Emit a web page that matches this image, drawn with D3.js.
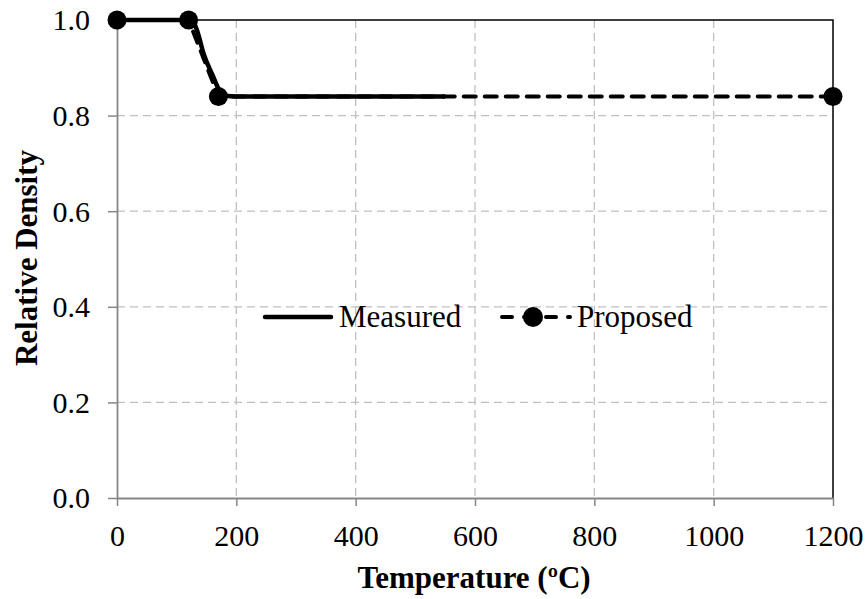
<!DOCTYPE html>
<html>
<head>
<meta charset="utf-8">
<script src="https://cdn.jsdelivr.net/npm/d3@7/dist/d3.min.js"></script>
<style>
  html, body { margin: 0; padding: 0; background: #fff; }
  svg { display: block; font-family: "Liberation Serif", "Times New Roman", serif; }
</style>
</head>
<body>
<svg id="chart" width="868" height="599"></svg>
<script>
// Relative density versus temperature
const measuredTemp    = [0, 125, 135, 145, 160, 172, 180, 200, 300, 400, 550];
const measuredDensity = [1.0, 1.0, 0.975, 0.93, 0.885, 0.852, 0.842, 0.84, 0.84, 0.84, 0.84];
const proposedTemp    = [0, 120, 170, 1200];
const proposedDensity = [1.0, 1.0, 0.84, 0.84];
const xTicks = [0, 200, 400, 600, 800, 1000, 1200];
const yTicks = [0.0, 0.2, 0.4, 0.6, 0.8, 1.0];
const seriesNames = ["Measured", "Proposed"];

(function () {
const svg = d3.select("#chart");
const pLeft = 117, pRight = 833, pTop = 20, pBottom = 498;
const serif = "Liberation Serif, Times New Roman, serif";

const x = d3.scaleLinear().domain([0, 1200]).range([pLeft, pRight]);
const y = d3.scaleLinear().domain([0, 1]).range([pBottom, pTop]);

// gridlines
const grid = svg.append("g");
grid.selectAll("line.vg").data(xTicks.filter(t => t > 0 && t < 1200)).join("line")
  .attr("x1", d => x(d)).attr("x2", d => x(d)).attr("y1", pTop).attr("y2", pBottom)
  .attr("stroke", "#c0c0c0").attr("stroke-width", 1.3).attr("stroke-dasharray", "8,5");
grid.selectAll("line.hg").data(yTicks.filter(t => t > 0 && t < 1)).join("line")
  .attr("x1", pLeft).attr("x2", pRight).attr("y1", d => y(d)).attr("y2", d => y(d))
  .attr("stroke", "#c0c0c0").attr("stroke-width", 1.3).attr("stroke-dasharray", "8,5");

// plot border (top and right)
svg.append("path")
  .attr("d", `M${pLeft},${pTop}H${pRight}V${pBottom}`)
  .attr("fill", "none").attr("stroke", "#000").attr("stroke-width", 1.5);

// axes
const xAxis = svg.append("g").attr("transform", `translate(0,${pBottom})`)
  .call(d3.axisBottom(x).tickValues(xTicks).tickSize(8).tickSizeOuter(0).tickFormat(d3.format("d")));
const yAxis = svg.append("g").attr("transform", `translate(${pLeft},0)`)
  .call(d3.axisLeft(y).tickValues(yTicks).tickSize(9).tickSizeOuter(0).tickFormat(d3.format(".1f")));
[xAxis, yAxis].forEach(a => {
  a.select(".domain").attr("stroke", "#868686").attr("stroke-width", 1.8);
  a.selectAll(".tick line").attr("stroke", "#868686").attr("stroke-width", 1.5);
  a.selectAll("text").attr("fill", "#000").attr("font-size", 30).attr("font-family", serif);
});
xAxis.selectAll("text").attr("y", 48).attr("dy", 0);
yAxis.selectAll("text").attr("x", -27).attr("dy", "0.33em");

// axis titles
svg.append("text").attr("x", 474).attr("y", 588).attr("text-anchor", "middle")
  .attr("font-size", 31).attr("font-weight", "bold").text("Temperature (ºC)");
svg.append("text").attr("transform", "translate(37,258) rotate(-90)").attr("text-anchor", "middle")
  .attr("font-size", 31).attr("font-weight", "bold").text("Relative Density");

const line = d3.line().x(d => x(d[0])).y(d => y(d[1]));
const measured = measuredTemp.map((t, i) => [t, measuredDensity[i]]);
const proposed = proposedTemp.map((t, i) => [t, proposedDensity[i]]);

svg.append("path").datum(measured)
  .attr("d", d3.line().x(d => x(d[0])).y(d => y(d[1])).curve(d3.curveMonotoneX))
  .attr("fill", "none").attr("stroke", "#000").attr("stroke-width", 4.5);

svg.append("path").datum(proposed).attr("d", line)
  .attr("fill", "none").attr("stroke", "#000").attr("stroke-width", 4)
  .attr("stroke-dasharray", "12,9").attr("stroke-linecap", "round");
svg.selectAll("circle.pt").data(proposed).join("circle")
  .attr("cx", d => x(d[0])).attr("cy", d => y(d[1])).attr("r", 9.5).attr("fill", "#000");

// legend
const lg = svg.append("g");
const ly = 317;
lg.append("line").attr("x1", 265).attr("x2", 331).attr("y1", ly).attr("y2", ly)
  .attr("stroke", "#000").attr("stroke-width", 4.5).attr("stroke-linecap", "round");
lg.append("text").attr("x", 339).attr("y", ly + 10).attr("font-size", 31).text(seriesNames[0]);
lg.append("line").attr("x1", 502).attr("x2", 570).attr("y1", ly).attr("y2", ly)
  .attr("stroke", "#000").attr("stroke-width", 4).attr("stroke-dasharray", "10,12")
  .attr("stroke-linecap", "round");
lg.append("circle").attr("cx", 533).attr("cy", ly).attr("r", 10).attr("fill", "#000");
lg.append("text").attr("x", 577).attr("y", ly + 10).attr("font-size", 31).text(seriesNames[1]);
})();
</script>
</body>
</html>
